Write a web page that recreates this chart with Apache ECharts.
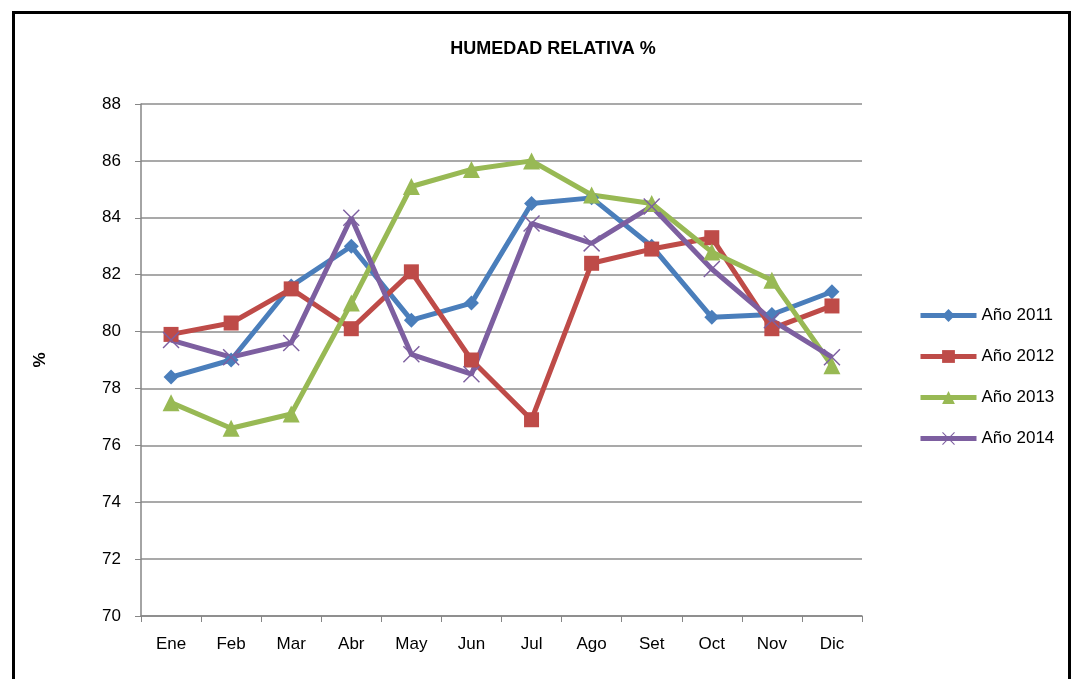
<!DOCTYPE html>
<html><head><meta charset="utf-8">
<script src="https://cdn.jsdelivr.net/npm/echarts@6/dist/echarts.min.js"></script>
<style>html,body{margin:0;padding:0;background:#fff}#c{width:1074px;height:679px}</style>
</head><body><div id="c"></div>
<script>
const months = ['Ene','Feb','Mar','Abr','May','Jun','Jul','Ago','Set','Oct','Nov','Dic'];
const y2011 = [78.4, 79.0, 81.6, 83.0, 80.4, 81.0, 84.5, 84.7, 83.0, 80.5, 80.6, 81.4];
const y2012 = [79.9, 80.3, 81.5, 80.1, 82.1, 79.0, 76.9, 82.4, 82.9, 83.3, 80.1, 80.9];
const y2013 = [77.5, 76.6, 77.1, 81.0, 85.1, 85.7, 86.0, 84.8, 84.5, 82.8, 81.8, 78.8];
const y2014 = [79.7, 79.1, 79.6, 84.0, 79.2, 78.5, 83.8, 83.1, 84.4, 82.2, 80.4, 79.1];
const seriesNames = ['Año 2011','Año 2012','Año 2013','Año 2014'];
const yTicks = {min:70, max:88, interval:2};

const font = 'Liberation Sans, Arial, sans-serif';
const colors = ['#4A7EBB','#BE4B48','#98B954','#7D5FA0'];
const xPath = 'path://M0,1.2L1.2,0L10,8.8L18.8,0L20,1.2L11.2,10L20,18.8L18.8,20L10,11.2L1.2,20L0,18.8L8.8,10Z';
const symbols = ['diamond','rect','triangle',xPath];
const sizes = [15,15,17,17];
const datas = [y2011,y2012,y2013,y2014];

const chart = echarts.init(document.getElementById('c'));
chart.setOption({
  animation:false,
  backgroundColor:'#fff',
  color: colors,
  title:{text:'HUMEDAD RELATIVA %', left:548, top:35, textAlign:'center',
    textStyle:{fontFamily:font, fontWeight:'bold', fontSize:18, color:'#000'}},
  graphic:[{type:'rect', shape:{x:13.5,y:12.5,width:1056,height:720},
    style:{fill:'none', stroke:'#000', lineWidth:3}, silent:true}],
  legend:{orient:'vertical', left:913, top:302, itemGap:24, itemWidth:56, itemHeight:16,
    lineStyle:{width:5},
    textStyle:{fontFamily:font, fontSize:17, color:'#000', padding:[0,0,0,0]},
    data:seriesNames},
  grid:{left:141, right:212, top:104, bottom:63},
  xAxis:{type:'category', data:months, boundaryGap:true,
    axisLine:{lineStyle:{color:'#868686', width:1.5}},
    axisTick:{show:true, length:6, inside:false, lineStyle:{color:'#868686'}},
    axisLabel:{fontFamily:font, fontSize:17, color:'#000', margin:20}},
  yAxis:{type:'value', min:yTicks.min, max:yTicks.max, interval:yTicks.interval,
    name:'%', nameLocation:'middle', nameGap:92, nameRotate:90,
    nameTextStyle:{fontFamily:font, fontWeight:'bold', fontSize:17, color:'#000'},
    axisLine:{show:true, lineStyle:{color:'#868686', width:1.5}},
    axisTick:{show:true, length:6, lineStyle:{color:'#868686'}},
    axisLabel:{fontFamily:font, fontSize:17, color:'#000', margin:20},
    splitLine:{lineStyle:{color:'#8C8C8C', width:1.5}}},
  series: seriesNames.map((n,i)=>({
    name:n, type:'line', data:datas[i], symbol:symbols[i], symbolSize:sizes[i],
    showSymbol:true,
    lineStyle:{width:5, color:colors[i]},
    itemStyle:{color:colors[i]}
  }))
});
</script></body></html>
